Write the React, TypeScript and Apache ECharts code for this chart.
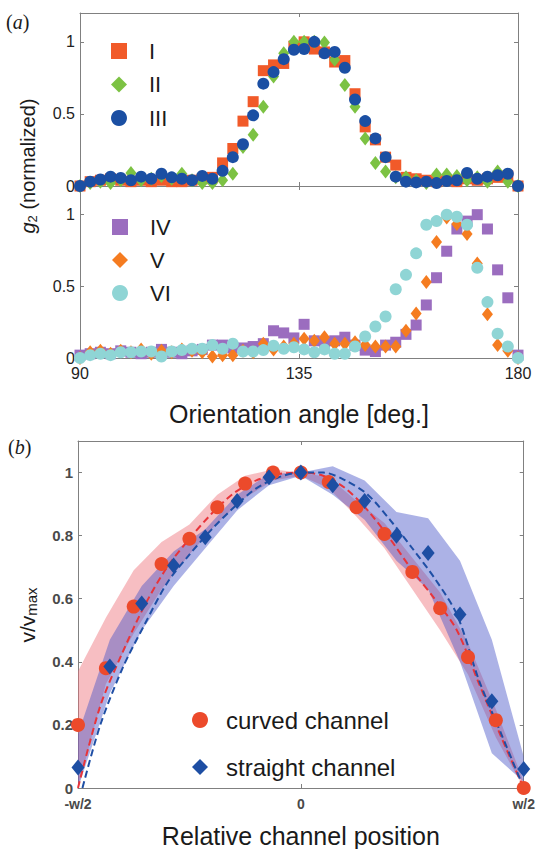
import React, { useEffect, useRef } from 'react';
import * as echarts from 'echarts';

// ---------- Panel (a) data ----------
const angles = [90, 92.09, 94.19, 96.28, 98.37, 100.47, 102.56, 104.65, 106.74, 108.84, 110.93, 113.02, 115.12, 117.21, 119.3, 121.4, 123.49, 125.58, 127.67, 129.77, 131.86, 133.95, 136.05, 138.14, 140.23, 142.33, 144.42, 146.51, 148.6, 150.7, 152.79, 154.88, 156.98, 159.07, 161.16, 163.26, 165.35, 167.44, 169.53, 171.63, 173.72, 175.81, 177.91, 180];
const angleTicks = [90, 135, 180];

const seriesI = [0.0, 0.03, 0.04, 0.05, 0.04, 0.03, 0.04, 0.03, 0.04, 0.03, 0.03, 0.04, 0.05, 0.06, 0.16, 0.26, 0.45, 0.585, 0.8, 0.84, 0.85, 0.97, 1.0, 0.95, 0.93, 0.86, 0.87, 0.64, 0.41, 0.32, 0.2, 0.145, 0.06, 0.05, 0.04, 0.03, 0.04, 0.03, 0.05, 0.04, 0.05, 0.06, 0.07, 0.0];
const seriesII = [0.0, 0.02, 0.03, 0.02, 0.04, 0.09, 0.04, 0.05, 0.07, 0.05, 0.085, 0.04, 0.02, 0.02, 0.04, 0.085, 0.27, 0.355, 0.55, 0.76, 0.92, 1.0, 1.0, 1.0, 0.995, 0.875, 0.7, 0.55, 0.33, 0.16, 0.1, 0.06, 0.06, 0.04, 0.02, 0.08, 0.08, 0.07, 0.04, 0.06, 0.03, 0.1, 0.03, 0.0];
const seriesIII = [0.0, 0.03, 0.045, 0.065, 0.055, 0.04, 0.065, 0.05, 0.085, 0.06, 0.05, 0.04, 0.07, 0.05, 0.105, 0.2, 0.29, 0.49, 0.71, 0.79, 0.88, 0.945, 0.95, 1.0, 0.92, 0.93, 0.82, 0.6, 0.45, 0.33, 0.2, 0.065, 0.03, 0.025, 0.03, 0.02, 0.035, 0.04, 0.09, 0.05, 0.065, 0.075, 0.085, 0.0];
const seriesIV = [0.02, 0.03, 0.04, 0.03, 0.05, 0.04, 0.03, 0.04, 0.06, 0.04, 0.03, 0.05, 0.06, 0.09, 0.09, 0.07, 0.07, 0.08, 0.1, 0.19, 0.175, 0.14, 0.235, 0.12, 0.11, 0.12, 0.145, 0.09, 0.055, 0.045, 0.09, 0.11, 0.165, 0.23, 0.37, 0.56, 0.745, 0.9, 0.955, 1.0, 0.9, 0.615, 0.42, 0.02];
const seriesV = [0.0, 0.04, 0.05, 0.03, 0.05, 0.04, 0.06, 0.03, 0.05, 0.04, 0.06, 0.05, 0.04, 0.01, 0.02, 0.02, 0.05, 0.04, 0.1, 0.06, 0.08, 0.1, 0.135, 0.12, 0.145, 0.1, 0.1, 0.11, 0.09, 0.08, 0.08, 0.08, 0.19, 0.31, 0.53, 0.81, 0.98, 0.935, 0.865, 0.66, 0.305, 0.09, 0.05, 0.0];
const seriesVI = [0.0, 0.02, 0.03, 0.02, 0.04, 0.04, 0.045, 0.045, 0.01, 0.045, 0.055, 0.065, 0.065, 0.09, 0.065, 0.1, 0.045, 0.045, 0.055, 0.085, 0.065, 0.075, 0.06, 0.04, 0.06, 0.03, 0.03, 0.08, 0.15, 0.22, 0.29, 0.48, 0.58, 0.73, 0.93, 0.955, 1.0, 0.985, 0.93, 0.63, 0.39, 0.17, 0.08, 0.0];

// ---------- Panel (b) data ----------
const positionTickLabels = ['-w/2', '0', 'w/2'];
const curvedX = [-1, -0.875, -0.75, -0.625, -0.5, -0.375, -0.25, -0.125, 0, 0.125, 0.25, 0.375, 0.5, 0.625, 0.75, 0.875, 1];
const curvedV = [0.2, 0.38, 0.575, 0.71, 0.79, 0.89, 0.965, 1.0, 1.0, 0.97, 0.89, 0.805, 0.685, 0.57, 0.415, 0.215, 0.0];
const curvedUpper = [0.37, 0.54, 0.69, 0.78, 0.835, 0.93, 0.99, 1.01, 1.0, 0.985, 0.91, 0.84, 0.73, 0.62, 0.46, 0.25, 0.02];
const curvedLower = [0.0, 0.33, 0.49, 0.63, 0.74, 0.84, 0.92, 0.975, 0.99, 0.95, 0.86, 0.76, 0.63, 0.5, 0.36, 0.16, 0.0];

const straightX = [-1, -0.857, -0.714, -0.571, -0.429, -0.286, -0.143, 0, 0.143, 0.286, 0.429, 0.571, 0.714, 0.857, 1];
const straightV = [0.065, 0.385, 0.585, 0.705, 0.795, 0.91, 0.985, 1.0, 0.96, 0.91, 0.8, 0.745, 0.55, 0.275, 0.06];
const straightUpper = [0.17, 0.47, 0.64, 0.75, 0.82, 0.93, 0.995, 1.0, 1.02, 0.975, 0.875, 0.855, 0.72, 0.47, 0.1];
const straightLower = [0.0, 0.3, 0.5, 0.64, 0.76, 0.88, 0.96, 0.99, 0.93, 0.85, 0.72, 0.63, 0.4, 0.11, 0.02];

const fitX = [-1, -0.9, -0.8, -0.7, -0.6, -0.5, -0.4, -0.3, -0.2, -0.1, 0, 0.1, 0.2, 0.3, 0.4, 0.5, 0.6, 0.7, 0.8, 0.9, 1];
const curvedFit = [0, 0.26, 0.43, 0.58, 0.7, 0.79, 0.87, 0.935, 0.975, 0.995, 1.0, 0.99, 0.95, 0.88, 0.79, 0.69, 0.6, 0.5, 0.33, 0.16, 0];
const straightFitX = [-0.98, -0.9, -0.8, -0.7, -0.6, -0.5, -0.4, -0.3, -0.2, -0.1, 0, 0.1, 0.2, 0.3, 0.4, 0.5, 0.6, 0.7, 0.8, 0.9, 1];
const straightFit = [0, 0.2, 0.38, 0.52, 0.65, 0.74, 0.82, 0.89, 0.95, 0.985, 1.0, 1.0, 0.975, 0.93, 0.85, 0.76, 0.665, 0.55, 0.34, 0.17, 0.0];

const SANS = 'Liberation Sans, Arial, Helvetica, sans-serif';
const SERIF = 'Liberation Serif, Times New Roman, serif';
const AXIS_COLOR = '#808080';

const pair = (xs: number[], ys: number[]) => xs.map((x, i) => [x, ys[i]]);

function baseAxis(gridIndex: number, position: string, showLabel: boolean) {
  return {
    type: 'value',
    gridIndex,
    position,
    axisLine: { show: true, onZero: false, lineStyle: { color: AXIS_COLOR, width: 1 } },
    axisTick: { show: true, inside: true, length: 4, lineStyle: { color: AXIS_COLOR } },
    splitLine: { show: false },
    axisLabel: { show: showLabel },
  };
}

function angleAxis(gridIndex: number, position: string, showLabel: boolean) {
  const a: any = baseAxis(gridIndex, position, showLabel);
  a.min = angleTicks[0];
  a.max = angleTicks[2];
  a.interval = angleTicks[1] - angleTicks[0];
  a.axisLabel = { show: showLabel, fontSize: 16, color: '#222', fontFamily: SANS, margin: 7 };
  return a;
}

function gAxis(gridIndex: number, position: string, showLabel: boolean) {
  const a: any = baseAxis(gridIndex, position, showLabel);
  a.min = 0;
  a.max = 1.2;
  a.interval = 0.5;
  a.axisLabel = {
    show: showLabel, fontSize: 16, color: '#222', fontFamily: SANS, margin: 5,
    formatter: (v: number) => (v > 1.001 ? '' : String(+v.toFixed(2))),
  };
  return a;
}

function posAxis(gridIndex: number, position: string, showLabel: boolean) {
  const a: any = baseAxis(gridIndex, position, showLabel);
  a.min = -1;
  a.max = 1;
  a.interval = 1;
  a.axisLabel = {
    show: showLabel, fontSize: 14, color: '#4a4a4a', fontWeight: 'bold', fontFamily: SANS, margin: 9,
    formatter: (v: number) => positionTickLabels[Math.round(v) + 1],
  };
  return a;
}

function vAxis(gridIndex: number, position: string, showLabel: boolean) {
  const a: any = baseAxis(gridIndex, position, showLabel);
  a.min = 0;
  a.max = 1.1;
  a.interval = 0.2;
  a.axisLabel = {
    show: showLabel, fontSize: 15, color: '#4a4a4a', fontWeight: 'bold', fontFamily: SANS, margin: 5,
    formatter: (v: number) => (v > 1.001 ? '' : String(+v.toFixed(2))),
  };
  return a;
}

function bandSeries(name: string, xs: number[], lo: number[], hi: number[], color: string, z: number) {
  return {
    type: 'custom',
    name,
    xAxisIndex: 4,
    yAxisIndex: 4,
    silent: true,
    z,
    data: [[0, 0.5]],
    renderItem: (_params: any, api: any) => {
      const pts: number[][] = [];
      for (let i = 0; i < xs.length; i++) pts.push(api.coord([xs[i], hi[i]]));
      for (let i = xs.length - 1; i >= 0; i--) pts.push(api.coord([xs[i], lo[i]]));
      return { type: 'polygon', shape: { points: pts }, style: { fill: color, stroke: 'none' } };
    },
  };
}

const legendText = (size: number, padLeft: number) => ({
  fontSize: size,
  lineHeight: size,
  color: '#1a1a1a',
  fontFamily: SANS,
  padding: [0, 0, 0, padLeft],
});

const dot = (color: string) => ({ color, opacity: 1 });

export default function App() {
  const ref = useRef<HTMLDivElement>(null);

  useEffect(() => {
    if (!ref.current) return;
    const chart = echarts.init(ref.current, undefined, { renderer: 'svg' });

    const option: any = {
      animation: false,
      backgroundColor: '#ffffff',
      textStyle: { fontFamily: SANS },
      grid: [
        { left: 80, top: 13, width: 438, height: 173 },
        { left: 80, top: 186, width: 438, height: 172 },
        { left: 78, top: 441, width: 448, height: 348 },
      ],
      xAxis: [
        angleAxis(0, 'bottom', false),
        angleAxis(0, 'top', false),
        Object.assign(angleAxis(1, 'bottom', true), {
          name: 'Orientation angle [deg.]',
          nameLocation: 'middle',
          nameGap: 43,
          nameTextStyle: { fontSize: 25, color: '#1a1a1a', fontFamily: SANS },
        }),
        angleAxis(1, 'top', false),
        Object.assign(posAxis(2, 'bottom', true), {
          name: 'Relative channel position',
          nameLocation: 'middle',
          nameGap: 35,
          nameTextStyle: { fontSize: 25, color: '#1a1a1a', fontFamily: SANS },
        }),
        posAxis(2, 'top', false),
      ],
      yAxis: [
        gAxis(0, 'left', true),
        gAxis(0, 'right', false),
        gAxis(1, 'left', true),
        gAxis(1, 'right', false),
        vAxis(2, 'left', true),
        vAxis(2, 'right', false),
      ],
      legend: [
        {
          data: ['I', 'II', 'III'], orient: 'vertical', left: 106, top: 35,
          itemWidth: 16, itemHeight: 16, itemGap: 11.5, selectedMode: false,
          textStyle: legendText(22, 17),
        },
        {
          data: ['IV', 'V', 'VI'], orient: 'vertical', left: 107, top: 211,
          itemWidth: 16, itemHeight: 16, itemGap: 11, selectedMode: false,
          textStyle: legendText(22, 17),
        },
        {
          data: ['curved channel', 'straight channel'], orient: 'vertical', left: 187, top: 703,
          itemWidth: 16, itemHeight: 16, itemGap: 23, selectedMode: false,
          textStyle: legendText(24, 13),
        },
      ],
      graphic: [
        {
          type: 'text', x: 6, y: 12, silent: true,
          style: {
            text: '{p|(}{i|a}{p|)}',
            rich: {
              p: { fontSize: 20, fontFamily: SERIF, fill: '#1a1a1a' },
              i: { fontSize: 20, fontFamily: SERIF, fontStyle: 'italic', fill: '#1a1a1a' },
            },
          },
        },
        {
          type: 'text', x: 8, y: 437, silent: true,
          style: {
            text: '{p|(}{i|b}{p|)}',
            rich: {
              p: { fontSize: 20, fontFamily: SERIF, fill: '#1a1a1a' },
              i: { fontSize: 20, fontFamily: SERIF, fontStyle: 'italic', fill: '#1a1a1a' },
            },
          },
        },
        {
          type: 'text', x: 28, y: 166, rotation: Math.PI / 2, silent: true,
          style: {
            text: '{i|g}{s|2}{n| (normalized)}',
            align: 'center',
            verticalAlign: 'middle',
            rich: {
              n: { fontSize: 20, lineHeight: 24, fontFamily: SANS, fill: '#1a1a1a' },
              i: { fontSize: 20, lineHeight: 24, fontFamily: SANS, fontStyle: 'italic', fill: '#1a1a1a' },
              s: { fontSize: 13, fontFamily: SANS, fill: '#1a1a1a', padding: [9, 0, 0, 0] },
            },
          },
        },
        {
          type: 'text', x: 27, y: 615, rotation: Math.PI / 2, silent: true,
          style: {
            text: '{n|v/v}{s|max}',
            align: 'center',
            verticalAlign: 'middle',
            rich: {
              n: { fontSize: 21, lineHeight: 24, fontFamily: SANS, fill: '#1a1a1a' },
              s: { fontSize: 15, fontFamily: SANS, fill: '#1a1a1a', padding: [9, 0, 0, 0] },
            },
          },
        },
      ],
      series: [
        { type: 'scatter', name: 'I', xAxisIndex: 0, yAxisIndex: 0, symbol: 'rect', symbolSize: 11, itemStyle: dot('#f15a29'), data: pair(angles, seriesI), z: 3 },
        { type: 'scatter', name: 'II', xAxisIndex: 0, yAxisIndex: 0, symbol: 'diamond', symbolSize: [11, 14], itemStyle: dot('#7cc243'), data: pair(angles, seriesII), z: 4 },
        { type: 'scatter', name: 'III', xAxisIndex: 0, yAxisIndex: 0, symbol: 'circle', symbolSize: 12, itemStyle: dot('#1b4fa3'), data: pair(angles, seriesIII), z: 5 },
        { type: 'scatter', name: 'IV', xAxisIndex: 2, yAxisIndex: 2, symbol: 'rect', symbolSize: 11, itemStyle: dot('#9b6dbf'), data: pair(angles, seriesIV), z: 3 },
        { type: 'scatter', name: 'V', xAxisIndex: 2, yAxisIndex: 2, symbol: 'diamond', symbolSize: [11, 14], itemStyle: dot('#f57c20'), data: pair(angles, seriesV), z: 4 },
        { type: 'scatter', name: 'VI', xAxisIndex: 2, yAxisIndex: 2, symbol: 'circle', symbolSize: 12, itemStyle: dot('#8fd5d5'), data: pair(angles, seriesVI), z: 5 },

        bandSeries('curved band', curvedX, curvedLower, curvedUpper, 'rgba(238,110,120,0.45)', 1),
        bandSeries('straight band', straightX, straightLower, straightUpper, 'rgba(70,85,200,0.45)', 1),

        {
          type: 'line', name: 'curved fit', xAxisIndex: 4, yAxisIndex: 4, showSymbol: false, symbol: 'none', smooth: 0.3, z: 2,
          lineStyle: { color: '#e8343a', width: 2, type: [7, 4] }, data: pair(fitX, curvedFit),
        },
        {
          type: 'line', name: 'straight fit', xAxisIndex: 4, yAxisIndex: 4, showSymbol: false, symbol: 'none', smooth: 0.3, z: 2,
          lineStyle: { color: '#1f4fa5', width: 2, type: [7, 4] }, data: pair(straightFitX, straightFit),
        },
        { type: 'scatter', name: 'curved channel', xAxisIndex: 4, yAxisIndex: 4, symbol: 'circle', symbolSize: 14, itemStyle: dot('#ec4a2b'), data: pair(curvedX, curvedV), z: 4 },
        { type: 'scatter', name: 'straight channel', xAxisIndex: 4, yAxisIndex: 4, symbol: 'diamond', symbolSize: [13, 16], itemStyle: dot('#1d4ea3'), data: pair(straightX, straightV), z: 5 },
      ],
    };

    chart.setOption(option);
    return () => chart.dispose();
  }, []);

  return (
    <div
      ref={ref}
      style={{ position: 'absolute', left: 0, top: 0, width: 538, height: 849, background: '#fff' }}
    />
  );
}
